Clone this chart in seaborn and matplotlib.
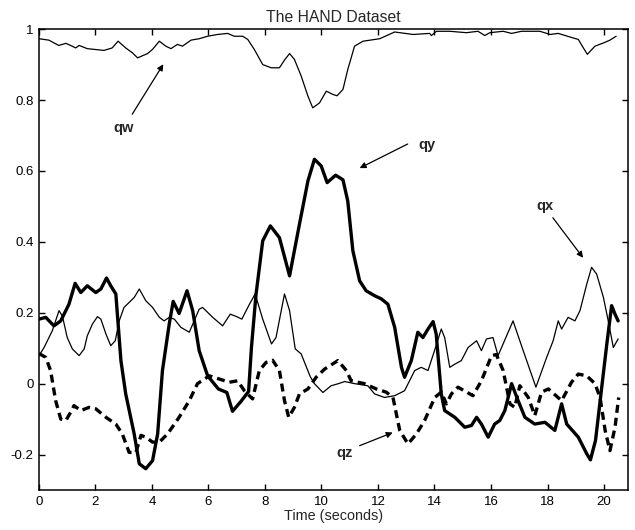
import matplotlib
matplotlib.use("Agg")
import matplotlib.pyplot as plt
import seaborn as sns
import numpy as np

# ---------------- data ----------------
qw_t = [0, 0.35, 0.7, 0.95, 1.12, 1.3, 1.42, 1.71, 2.3, 2.59, 2.8, 3.07, 3.31, 3.49, 3.84,
        4.02, 4.26, 4.49, 4.67, 4.9, 5.08, 5.38, 5.67, 5.97, 6.32, 6.68, 6.91, 7.21, 7.39, 7.62,
        7.92, 8.22, 8.51, 8.71, 8.87, 9.04, 9.28, 9.52, 9.69, 9.93, 10.17, 10.4, 10.55, 10.76, 10.93,
        11.17, 11.47, 12.06, 12.59, 13.24, 13.83, 13.89, 14.07, 14.54, 15.13, 15.54, 15.78, 15.96,
        16.43, 16.73, 17.08, 17.73, 18.09, 18.38, 18.79, 19.09, 19.27, 19.41, 19.68, 19.98, 20.21, 20.43]
qw_v = [0.973, 0.969, 0.954, 0.96, 0.954, 0.947, 0.954, 0.945, 0.94, 0.947, 0.966, 0.947, 0.933, 0.919, 0.931,
        0.943, 0.966, 0.952, 0.945, 0.957, 0.952, 0.969, 0.973, 0.98, 0.985, 0.988, 0.98, 0.98, 0.971, 0.943,
        0.90, 0.891, 0.891, 0.915, 0.931, 0.915, 0.868, 0.811, 0.778, 0.792, 0.825, 0.816, 0.812, 0.83, 0.886,
        0.952, 0.966, 0.973, 0.992, 0.985, 0.988, 0.982, 0.994, 0.994, 0.99, 0.994, 0.982, 0.99,
        0.994, 0.988, 0.994, 0.994, 0.985, 0.988, 0.978, 0.971, 0.947, 0.929, 0.952, 0.961, 0.969, 0.98]

qx_t = [0, 0.18, 0.47, 0.71, 0.83, 1.0, 1.18, 1.42, 1.6, 1.71, 1.89, 2.07, 2.19, 2.37, 2.54,
        2.7, 2.84, 3.01, 3.19, 3.37, 3.55, 3.78, 4.02, 4.26, 4.43, 4.61, 4.79, 5.02, 5.32, 5.67,
        5.79, 6.15, 6.5, 6.77, 6.97, 7.18, 7.45, 7.65, 7.92, 8.23, 8.39, 8.69, 8.87, 9.07, 9.28,
        9.6, 9.75, 10.05, 10.34, 10.6, 10.82, 11.17, 11.64, 11.88, 12.23, 12.59, 12.94, 13.3, 13.53, 13.77,
        14.0, 14.24, 14.36, 14.54, 14.72, 14.95, 15.19, 15.49, 15.66, 15.84, 16.07, 16.25, 16.78, 17.14, 17.59,
        17.97, 18.2, 18.38, 18.5, 18.73, 18.97, 19.15, 19.39, 19.56, 19.74, 19.98, 20.15, 20.33, 20.5]
qx_v = [0.079, 0.102, 0.149, 0.206, 0.19, 0.13, 0.098, 0.079, 0.098, 0.135, 0.168, 0.189, 0.182, 0.14, 0.107,
        0.121, 0.177, 0.215, 0.229, 0.243, 0.267, 0.234, 0.215, 0.187, 0.177, 0.187, 0.182, 0.159, 0.145, 0.21,
        0.215, 0.187, 0.163, 0.196, 0.19, 0.182, 0.224, 0.253, 0.182, 0.112, 0.13, 0.253, 0.206, 0.098, 0.084,
        0.02, 0.0, -0.025, -0.006, 0.0, 0.006, 0.0, -0.006, -0.029, -0.039, -0.034, -0.02, 0.037, 0.046, 0.037,
        0.093, 0.154, 0.13, 0.046, 0.055, 0.065, 0.102, 0.121, 0.093, 0.126, 0.13, 0.079, 0.177, 0.093, -0.01,
        0.074, 0.121, 0.177, 0.154, 0.187, 0.177, 0.206, 0.281, 0.328, 0.309, 0.243, 0.177, 0.102, 0.126]

qy_t = [0, 0.24, 0.53, 0.77, 1.06, 1.28, 1.48, 1.71, 2.01, 2.19, 2.39, 2.54, 2.72, 2.9, 3.07,
        3.37, 3.55, 3.78, 4.02, 4.2, 4.37, 4.61, 4.75, 4.96, 5.24, 5.44, 5.67, 5.97, 6.35, 6.65,
        6.85, 7.15, 7.42, 7.52, 7.68, 7.92, 8.19, 8.51, 8.87, 9.22, 9.52, 9.75, 9.99, 10.2, 10.5,
        10.76, 10.93, 11.11, 11.35, 11.58, 11.88, 12.12, 12.35, 12.59, 12.83, 12.94, 13.18, 13.41, 13.59, 13.77,
        13.95, 14.06, 14.24, 14.36, 14.72, 15.07, 15.31, 15.49, 15.66, 15.9, 16.13, 16.31, 16.49, 16.73, 16.96,
        17.2, 17.55, 17.91, 18.26, 18.5, 18.68, 19.09, 19.39, 19.52, 19.7, 19.92, 20.1, 20.27, 20.39, 20.5]
qy_v = [0.182, 0.187, 0.163, 0.177, 0.224, 0.283, 0.257, 0.276, 0.257, 0.267, 0.298, 0.276, 0.253, 0.065, -0.029,
        -0.142, -0.226, -0.24, -0.217, -0.142, 0.037, 0.168, 0.232, 0.198, 0.262, 0.206, 0.093, 0.022, -0.015, -0.025,
        -0.078, -0.05, -0.022, 0.102, 0.25, 0.403, 0.445, 0.412, 0.304, 0.45, 0.572, 0.633, 0.614, 0.567, 0.588,
        0.575, 0.515, 0.375, 0.29, 0.262, 0.248, 0.239, 0.224, 0.159, 0.046, 0.018, 0.065, 0.145, 0.13, 0.154,
        0.175, 0.14, -0.029, -0.076, -0.095, -0.123, -0.118, -0.095, -0.114, -0.151, -0.114, -0.104, -0.076, 0.0, -0.048,
        -0.095, -0.114, -0.109, -0.132, -0.057, -0.114, -0.151, -0.198, -0.215, -0.16, -0.01, 0.112, 0.22, 0.196, 0.177]

qz_t = [0, 0.24, 0.41, 0.59, 0.77, 0.95, 1.12, 1.24, 1.48, 1.77, 2.01, 2.37, 2.72, 2.95, 3.19,
        3.43, 3.61, 3.78, 4.02, 4.26, 4.55, 4.96, 5.32, 5.61, 6.03, 6.38, 6.74, 7.03, 7.27, 7.56,
        7.8, 8.04, 8.27, 8.51, 8.69, 8.84, 9.04, 9.22, 9.52, 9.81, 10.11, 10.58, 10.88, 11.05, 11.52,
        11.94, 12.29, 12.53, 12.77, 13.06, 13.36, 13.65, 14.01, 14.24, 14.42, 14.6, 14.83, 15.36, 15.66, 16.02,
        16.19, 16.43, 16.67, 16.84, 17.02, 17.32, 17.55, 17.79, 18.03, 18.5, 18.85, 19.09, 19.39, 19.68, 19.86,
        20.04, 20.21, 20.39, 20.52]
qz_v = [0.085, 0.074, 0.037, -0.048, -0.1, -0.104, -0.081, -0.062, -0.076, -0.067, -0.071, -0.095, -0.114, -0.142, -0.194,
        -0.194, -0.146, -0.151, -0.165, -0.165, -0.142, -0.095, -0.048, 0.0, 0.022, 0.013, 0.004, 0.008, -0.02, -0.043,
        0.037, 0.06, 0.066, 0.037, -0.048, -0.095, -0.067, -0.029, -0.015, 0.018, 0.041, 0.065, 0.037, 0.008, 0.0,
        -0.015, -0.024, -0.039, -0.132, -0.17, -0.142, -0.104, -0.039, -0.024, -0.057, -0.029, -0.01, -0.034, 0.008, 0.079,
        0.082, 0.037, -0.057, -0.067, -0.006, -0.039, -0.09, -0.024, -0.015, -0.048, 0.004, 0.027, 0.022, 0.0, -0.039,
        -0.132, -0.189, -0.123, -0.039]

x_ticks = [0, 2, 4, 6, 8, 10, 12, 14, 16, 18, 20]
y_ticks = [-0.2, 0, 0.2, 0.4, 0.6, 0.8, 1]
y_tick_labels = ["-0.2", "0", "0.2", "0.4", "0.6", "0.8", "1"]

labels = ["qw", "qy", "qx", "qz"]
label_pos = [(3.01, 0.72), (13.72, 0.673), (17.9, 0.50), (10.82, -0.197)]
arrow_tail = [(3.3, 0.76), (13.05, 0.676), (18.19, 0.468), (11.35, -0.175)]
arrow_head = [(4.4, 0.901), (11.35, 0.608), (19.26, 0.355), (12.52, -0.138)]

title = "The HAND Dataset"
xlabel = "Time (seconds)"

# ---------------- style ----------------
sns.set_style("ticks")
plt.rcParams["font.family"] = ["Liberation Sans", "DejaVu Sans"]
plt.rcParams["lines.solid_joinstyle"] = "round"
plt.rcParams["lines.solid_capstyle"] = "round"
plt.rcParams["lines.dash_joinstyle"] = "round"

fig = plt.figure(figsize=(6.35, 5.3), dpi=100)
ax = fig.add_axes([0.0614, 0.0755, 0.9276, 0.8695])

sns.lineplot(x=qw_t, y=qw_v, ax=ax, color="black", lw=0.9, sort=False, estimator=None)
sns.lineplot(x=qx_t, y=qx_v, ax=ax, color="black", lw=0.9, sort=False, estimator=None)
sns.lineplot(x=qy_t, y=qy_v, ax=ax, color="black", lw=2.4, sort=False, estimator=None)
sns.lineplot(x=qz_t, y=qz_v, ax=ax, color="black", lw=2.4, sort=False, estimator=None)
ax.lines[-1].set_dashes([2.4, 1.5])
for ln in ax.lines:
    ln.set_solid_joinstyle("round")
    ln.set_dash_joinstyle("round")

for lab, p, tl, hd in zip(labels, label_pos, arrow_tail, arrow_head):
    ax.text(p[0], p[1], lab, ha="center", va="center", fontsize=10.5, fontweight="bold")
    ax.annotate("", xy=hd, xytext=tl,
                arrowprops=dict(arrowstyle="-|>", color="black", lw=0.9,
                                mutation_scale=9, shrinkA=0, shrinkB=0))

ax.set_xlim(0, 20.85)
ax.set_ylim(-0.3, 1.0)
ax.set_xticks(x_ticks)
ax.set_xticklabels([str(v) for v in x_ticks])
ax.set_yticks(y_ticks)
ax.set_yticklabels(y_tick_labels)
ax.tick_params(direction="in", length=4, width=1, top=True, right=True,
               labelsize=9.5, colors="black", pad=4)
for s in ax.spines.values():
    s.set_linewidth(1.1)
    s.set_color("black")

ax.set_title(title, fontsize=11.3, pad=5)
ax.set_xlabel(xlabel, fontsize=10.4, labelpad=1)
ax.set_ylabel("")

fig.savefig("out.png", dpi=100)
